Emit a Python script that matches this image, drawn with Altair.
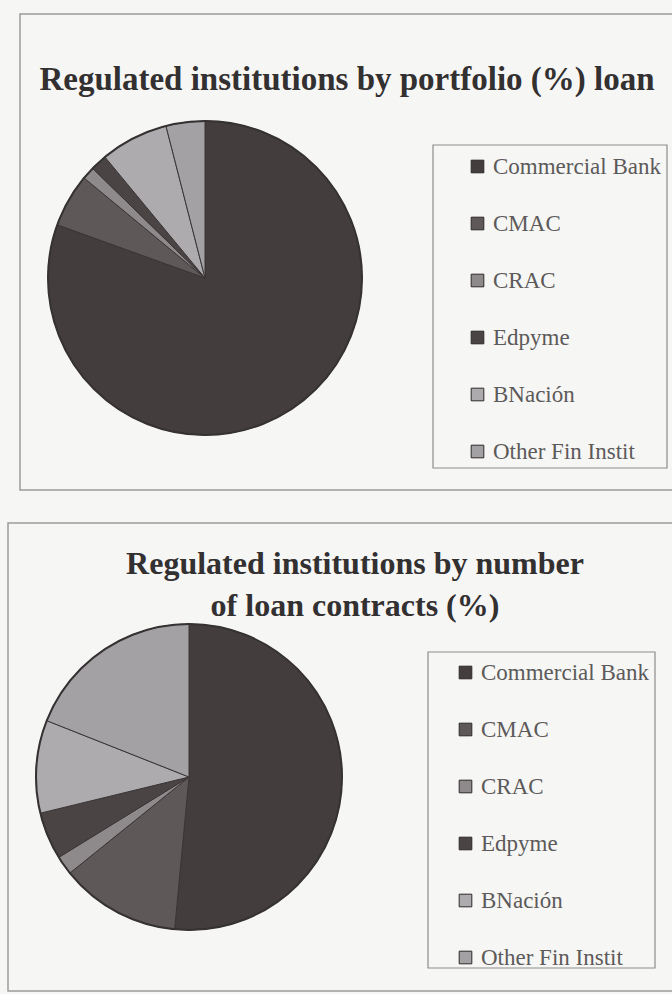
import altair as alt
import pandas as pd

# Institutions shown in both pies (legend order = slice order, clockwise from 12 o'clock)
institutions = ["Commercial Bank", "CMAC", "CRAC", "Edpyme", "BNación", "Other Fin Instit"]

# Share of the loan portfolio (%)
portfolio_share = [80.5, 5.5, 1.3, 1.7, 7.0, 4.0]

# Share of the number of loan contracts (%)
contracts_share = [51.5, 12.7, 2.0, 5.0, 9.8, 19.0]

# Grey-scale palette
palette = ["#433d3e", "#5e5859", "#8e898a", "#4a4445", "#adabad", "#a3a1a3"]

SERIF = "Liberation Serif"
BG = "#f6f6f4"
FRAME = "#9c9c9c"

portfolio_df = pd.DataFrame({
    "institution": institutions,
    "share": portfolio_share,
    "idx": list(range(len(institutions))),
})
contracts_df = pd.DataFrame({
    "institution": institutions,
    "share": contracts_share,
    "idx": list(range(len(institutions))),
})

one_row = alt.Data(values=[{}])


def box(x0, y0, x1, y1, width=1.5, color=FRAME):
    return alt.Chart(one_row).mark_rect(
        color="#000", fillOpacity=0, stroke=color, strokeWidth=width
    ).encode(
        x=alt.value(x0), x2=alt.value(x1), y=alt.value(y0), y2=alt.value(y1)
    )


def legend_for(lx, ly):
    return alt.Legend(
        title=None,
        orient="none",
        legendX=lx,
        legendY=ly,
        padding=0,
        symbolType="square",
        symbolSize=160,
        symbolStrokeColor="#2e2a2b",
        symbolStrokeWidth=1,
        labelFont=SERIF,
        labelFontSize=23,
        labelColor="#5c5a5a",
        labelOffset=4,
        labelLimit=300,
        rowPadding=33,
    )


def pie(df, cx, cy, r, lx, ly):
    slices = alt.Chart(df).mark_arc(stroke="#3a3536", strokeWidth=1).encode(
        theta=alt.Theta("share:Q", stack=True),
        color=alt.Color(
            "institution:N",
            sort=institutions,
            scale=alt.Scale(domain=institutions, range=palette),
            legend=legend_for(lx, ly),
        ),
        order=alt.Order("idx:Q"),
        x=alt.value(cx),
        y=alt.value(cy),
        radius=alt.value(r),
    )
    rim = alt.Chart(one_row).mark_arc(
        theta=0, theta2=6.2832, radius=r, color="#000", fillOpacity=0,
        stroke="#363132", strokeWidth=2
    ).encode(x=alt.value(cx), y=alt.value(cy))
    return slices, rim


def title(lines, x, y, size=32, line_height=42):
    return alt.Chart(one_row).mark_text(
        text=lines, font=SERIF, fontSize=size, fontWeight="bold",
        color="#333031", align="center", baseline="alphabetic", lineHeight=line_height
    ).encode(x=alt.value(x), y=alt.value(y))


top_slices, top_rim = pie(portfolio_df, 205, 278, 157, 466, 155)
bottom_slices, bottom_rim = pie(contracts_df, 189, 777, 153, 454, 661)

chart = alt.layer(
    box(20, 14, 690, 490),
    box(8, 523, 690, 991),
    box(433, 145, 667, 468, width=1.2, color="#8c8c8c"),
    box(428, 652, 655, 968, width=1.2, color="#8c8c8c"),
    title("Regulated institutions by portfolio (%) loan", 347, 90, size=33),
    title(["Regulated institutions by number", "of loan contracts (%)"], 355, 574),
    top_slices,
    top_rim,
    bottom_slices,
    bottom_rim,
).resolve_scale(
    color="independent", theta="independent"
).properties(
    width=672,
    height=994,
    padding=0,
    autosize=alt.AutoSizeParams(type="none"),
    background=BG,
).configure_view(strokeWidth=0)

chart.save("out.html", embed_options={"renderer": "svg", "actions": False})
